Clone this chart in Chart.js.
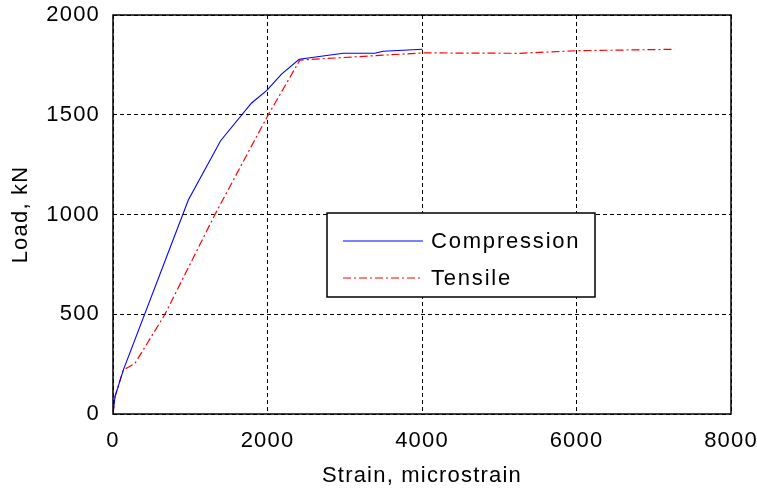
<!DOCTYPE html>
<html>
<head>
<meta charset="utf-8">
<script src="https://cdn.jsdelivr.net/npm/chart.js@4"></script>
<style>
  html,body{margin:0;padding:0;background:#fff;}
  #wrap{width:757px;height:489px;}
</style>
</head>
<body>
<div id="wrap"><canvas id="chart" width="757" height="489"></canvas></div>
<script>
// data
var compStrain = [0, 26, 133, 975, 1393, 1794, 1988, 2182, 2410, 2979, 3389, 3497, 4006];
var compLoad   = [0, 87, 220, 1073, 1370, 1559, 1621, 1704, 1778, 1808, 1808, 1818, 1828];
var tensStrain = [0, 26, 133, 285, 673, 1320, 2010, 2419, 4006, 5265, 5998, 7270];
var tensLoad   = [0, 87, 220, 254, 500, 1000, 1500, 1774, 1810, 1808, 1821, 1828];
var xTicks = [0, 2000, 4000, 6000, 8000];
var yTicks = [0, 500, 1000, 1500, 2000];

var FONT = "'Liberation Sans', Arial, sans-serif";

function pts(xs, ys){
  var out = [];
  for (var i = 0; i < xs.length; i++) out.push({x: xs[i], y: ys[i]});
  return out;
}

// box round plot + letter spacing
var frame = {
  id: 'frame',
  beforeDraw: function(chart){
    chart.ctx.letterSpacing = '1.2px';
  },
  afterDatasetsDraw: function(chart){
    var a = chart.chartArea, ctx = chart.ctx;
    ctx.save();
    ctx.strokeStyle = '#000';
    ctx.lineWidth = 1.5;
    ctx.strokeRect(a.left, a.top, a.right - a.left, a.bottom - a.top);
    ctx.restore();
  }
};

// legend box in the middle of the plot
var boxLegend = {
  id: 'boxLegend',
  afterDraw: function(chart){
    var ctx = chart.ctx;
    var x0 = 327, y0 = 213, w = 268, h = 84;
    ctx.save();
    ctx.fillStyle = '#fff';
    ctx.fillRect(x0, y0, w, h);
    ctx.strokeStyle = '#000';
    ctx.lineWidth = 1.5;
    ctx.strokeRect(x0, y0, w, h);
    chart.data.datasets.forEach(function(ds, i){
      var y = y0 + 28 + i * 37;
      ctx.strokeStyle = ds.borderColor;
      ctx.lineWidth = 1.2;
      ctx.setLineDash(ds.borderDash || []);
      ctx.beginPath();
      ctx.moveTo(343, y);
      ctx.lineTo(423, y);
      ctx.stroke();
      ctx.setLineDash([]);
      ctx.fillStyle = '#000';
      ctx.font = '22px ' + FONT;
      ctx.letterSpacing = '1.8px';
      ctx.textBaseline = 'middle';
      ctx.textAlign = 'left';
      ctx.fillText(ds.label, 431, y + 1);
    });
    ctx.restore();
  }
};

new Chart(document.getElementById('chart'), {
  type: 'scatter',
  data: {
    datasets: [
      {
        label: 'Compression',
        data: pts(compStrain, compLoad),
        showLine: true,
        borderColor: '#0000ff',
        borderWidth: 1.1,
        pointRadius: 0,
        fill: false
      },
      {
        label: 'Tensile',
        data: pts(tensStrain, tensLoad),
        showLine: true,
        borderColor: '#ff0000',
        borderWidth: 1.2,
        borderDash: [8, 3, 2, 3],
        pointRadius: 0,
        fill: false
      }
    ]
  },
  options: {
    responsive: false,
    animation: false,
    layout: {padding: {top: 15, right: 26, left: 0, bottom: 0}},
    plugins: {
      legend: {display: false},
      tooltip: {enabled: false}
    },
    scales: {
      x: {
        type: 'linear',
        min: 0, max: 8000,
        afterBuildTicks: function(s){ s.ticks = xTicks.map(function(v){ return {value: v}; }); },
        afterFit: function(s){ s.height = 75; s.paddingLeft = 0; s.paddingRight = 0; },
        ticks: {
          color: '#000',
          padding: 14,
          maxRotation: 0,
          font: {family: FONT, size: 22},
          callback: function(v){ return String(v); }
        },
        grid: {
          color: '#000',
          lineWidth: 1,
          drawTicks: false
        },
        border: {display: false, dash: [4, 3]},
        title: {
          display: true,
          text: 'Strain, microstrain',
          color: '#000',
          font: {family: FONT, size: 22},
          padding: {top: 0, bottom: 0}
        }
      },
      y: {
        type: 'linear',
        min: 0, max: 2000,
        afterBuildTicks: function(s){ s.ticks = yTicks.map(function(v){ return {value: v}; }); },
        afterFit: function(s){ s.width = 113; s.paddingTop = 0; s.paddingBottom = 0; },
        ticks: {
          color: '#000',
          padding: 13,
          font: {family: FONT, size: 22},
          callback: function(v){ return String(v); }
        },
        grid: {
          color: '#000',
          lineWidth: 1,
          drawTicks: false
        },
        border: {display: false, dash: [4, 3]},
        title: {
          display: true,
          text: 'Load, kN',
          color: '#000',
          font: {family: FONT, size: 22},
          padding: {top: 8, bottom: 0}
        }
      }
    }
  },
  plugins: [frame, boxLegend]
});
</script>
</body>
</html>
